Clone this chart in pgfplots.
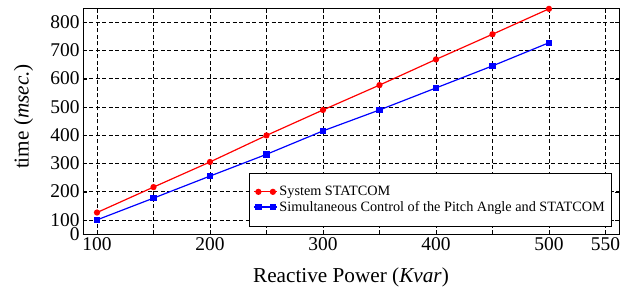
\documentclass[border=0pt]{standalone}
\usepackage{pgfplots}
\pgfplotsset{compat=1.18}
\usepackage{fontspec}
\setmainfont{Liberation Serif}
\begin{document}
\begin{tikzpicture}
\begin{axis}[
  scale only axis,
  width=536bp, height=226bp,
  xmin=87.6, xmax=562, ymin=50, ymax=850,
  xtick={100,150,...,550},
  xticklabels={100,,200,,300,,400,,500,550},
  ytick={50,100,200,300,400,500,600,700,800},
  yticklabels={0,100,200,300,400,500,600,700,800},
  grid=major,
  major grid style={dash pattern=on 4bp off 2.5bp, black, line width=0.6pt},
  axis line style={black, line width=0.8pt},
  tick style={black},
  /pgf/number format/assume math mode=true,
  ticklabel style={font=\fontsize{19.5}{19.5}\selectfont},
  label style={font=\fontsize{21.3}{21.3}\selectfont},
  xlabel={Reactive Power (\textit{Kvar})},
  ylabel={time (\textit{msec.})},
  xlabel style={at={(axis description cs:0.5,0)}, anchor=center, yshift=-43bp},
  ylabel style={at={(axis description cs:-0.111,0.52)}, anchor=center},
  legend style={at={(1,0)}, anchor=south east, xshift=-8bp, yshift=8bp,
    font=\fontsize{14.3}{17.5}\selectfont, draw=black, fill=white, cells={anchor=west},
    inner ysep=11bp, inner xsep=4bp},
  legend cell align=left,
  legend image code/.code={\draw[mark indices={2,3},#1] plot coordinates {(0bp,0bp) (4.5bp,0bp) (19bp,0bp) (23bp,0bp)};},
]
\addplot[red, line width=1.2pt, mark=*, mark size=2.5pt] coordinates {
(100,126) (150,216) (200,305) (250,399) (300,489) (350,577) (400,668) (450,757) (500,847)};
\addlegendentry{System STATCOM}
\addplot[blue, line width=1.2pt, mark=square*, mark size=2.6pt] coordinates {
(100,100) (150,177) (200,255) (250,332) (300,415) (350,489) (400,567) (450,645) (500,727)};
\addlegendentry{Simultaneous Control of the Pitch Angle and STATCOM}
\end{axis}
\path ([xshift=-83bp,yshift=-57bp]current axis.south west) rectangle ([xshift=8bp,yshift=8bp]current axis.north east);
\end{tikzpicture}
\end{document}
